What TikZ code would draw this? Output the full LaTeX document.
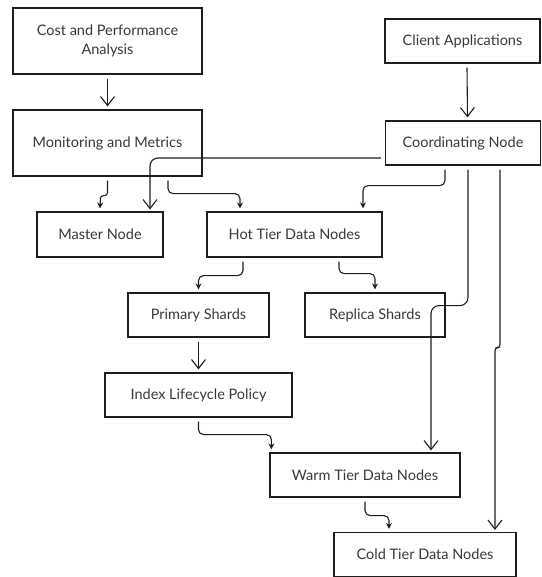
\documentclass[tikz,border=0pt]{standalone}
\usepackage{fontspec}
\setmainfont{Lato}
\usetikzlibrary{arrows.meta,calc}
\definecolor{ink}{HTML}{1E1E1E}
\definecolor{txt}{HTML}{383838}
\tikzset{
  box/.style={draw=ink, line width=1.2pt, rectangle, minimum height=44pt, align=center, text=txt, font=\fontsize{14.5}{18.5}\selectfont, inner sep=2pt},
  conn/.style={draw=ink, line width=1.1pt},
  sarr/.style={conn, -{Stealth[length=6pt,width=6pt]}, rounded corners=5pt},
  barb/.style={conn, -{Straight Barb[length=9pt,width=14pt,line width=1.1pt]}, rounded corners=8pt},
}
\begin{document}
\begin{tikzpicture}[x=1pt,y=-1pt]
\useasboundingbox (0,0) rectangle (541,577);
\node[box, minimum width=189pt, minimum height=66pt] (cost) at (107.5,41) {Cost and Performance\\Analysis};
\node[box, minimum width=189pt, minimum height=66pt] (mon) at (107.5,143) {Monitoring and Metrics};
\node[box, minimum width=126pt, minimum height=45pt] (master) at (100,234.5) {Master Node};
\node[box, minimum width=175pt, minimum height=45pt] (hot) at (294.5,234.5) {Hot Tier Data Nodes};
\node[box, minimum width=155pt] (client) at (462.5,41) {Client Applications};
\node[box, minimum width=155pt] (coord) at (463,143) {Coordinating Node};
\node[box, minimum width=141pt] (prim) at (198.5,315) {Primary Shards};
\node[box, minimum width=140pt] (rep) at (375,315) {Replica Shards};
\node[box, minimum width=187pt] (ilp) at (198.5,395) {Index Lifecycle Policy};
\node[box, minimum width=190pt] (warm) at (365,475) {Warm Tier Data Nodes};
\node[box, minimum width=182pt] (cold) at (425,554.5) {Cold Tier Data Nodes};

\draw[barb] ([yshift=-4pt]cost.south) -- ([yshift=3pt]mon.north);
\draw[barb] ([xshift=4.5pt,yshift=-4pt]client.south) -- ([xshift=4.5pt,yshift=3pt]coord.north);
\draw[sarr, rounded corners=3pt] ([yshift=-4pt]mon.south) -- ++(0,15) -- ++(-7,0) -- ([xshift=0pt,yshift=3pt]master.north);
\draw[sarr] ([xshift=60.5pt,yshift=-4pt]mon.south) -- ++(0,13) -| ([xshift=-54.5pt,yshift=3pt]hot.north);
\draw[barb] ([xshift=-4pt,yshift=-15pt]coord.west) -| ([xshift=50pt,yshift=2pt]master.north);
\draw[sarr] ([xshift=-18pt,yshift=-4pt]coord.south) -- ++(0,16) -| ([xshift=68.5pt,yshift=3pt]hot.north);
\draw[barb] ([xshift=5pt,yshift=-4pt]coord.south) -- ++(0,136) -| ([xshift=66pt,yshift=2pt]warm.north);
\draw[barb, rounded corners=3pt] ([xshift=37pt,yshift=-4pt]coord.south) -- ++(0,178) -- ++(-5,0) -- ([xshift=70pt,yshift=2pt]cold.north);
\draw[sarr] ([xshift=-51.5pt,yshift=-4pt]hot.south) -- ++(0,14) -| ([yshift=3pt]prim.north);
\draw[sarr] ([xshift=44.5pt,yshift=-4pt]hot.south) -- ++(0,12) -| ([yshift=3pt]rep.north);
\draw[barb] ([yshift=-4pt]prim.south) -- ([yshift=3pt]ilp.north);
\draw[sarr] ([yshift=-4pt]ilp.south) -- ++(0,13) -| ([xshift=2pt,yshift=3pt]warm.north west);
\draw[sarr] ([yshift=-4pt]warm.south) -- ++(0,14) -| ([xshift=-36pt,yshift=3pt]cold.north);
\end{tikzpicture}
\end{document}
